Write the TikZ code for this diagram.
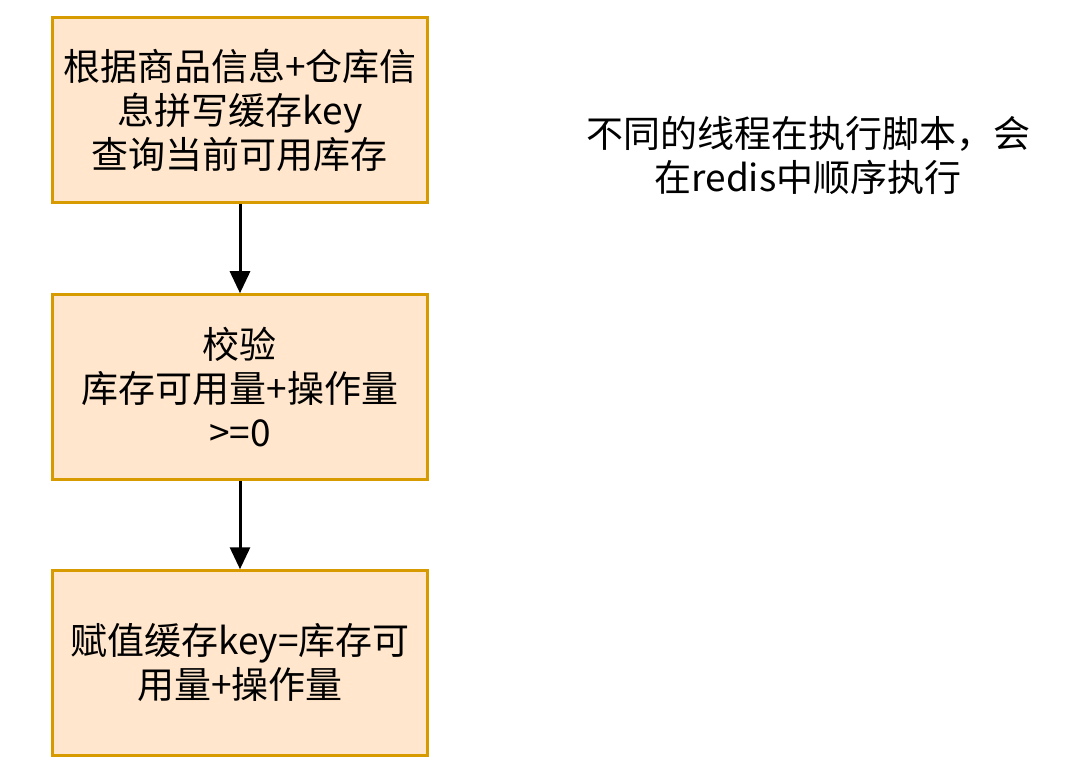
\documentclass[tikz,border=0pt]{standalone}
\usepackage{fontspec}
\setmainfont{Noto Sans CJK SC}
\usetikzlibrary{arrows.meta}
\definecolor{boxfill}{HTML}{FFE6CC}
\definecolor{boxdraw}{HTML}{D79B00}
\begin{document}
\begin{tikzpicture}[x=1pt,y=-1pt,
  box/.style={draw=boxdraw,fill=boxfill,line width=2.5pt,minimum width=370pt,minimum height=185pt,align=center,text width=368pt,font=\fontsize{37}{44}\selectfont},
  arr/.style={-{Triangle[length=22pt,width=20pt,fill=black]},line width=3pt,draw=black}]
\useasboundingbox (0,0) rectangle (1080,770);
\fill[white] (0,0) rectangle (1080,770);
\node[box] (a) at (240,110) {根据商品信息+仓库信\\息拼写缓存key\\查询当前可用库存};
\node[box] (b) at (240,387) {校验\\库存可用量+操作量\\>=0};
\node[box] (c) at (240,663) {赋值缓存key=库存可\\用量+操作量};
\draw[arr] (a) -- (b);
\draw[arr] (b) -- (c);
\node[align=center,font=\fontsize{37}{44}\selectfont] (t) at (808,155) {不同的线程在执行脚本，会\\在redis中顺序执行};
\end{tikzpicture}
\end{document}
